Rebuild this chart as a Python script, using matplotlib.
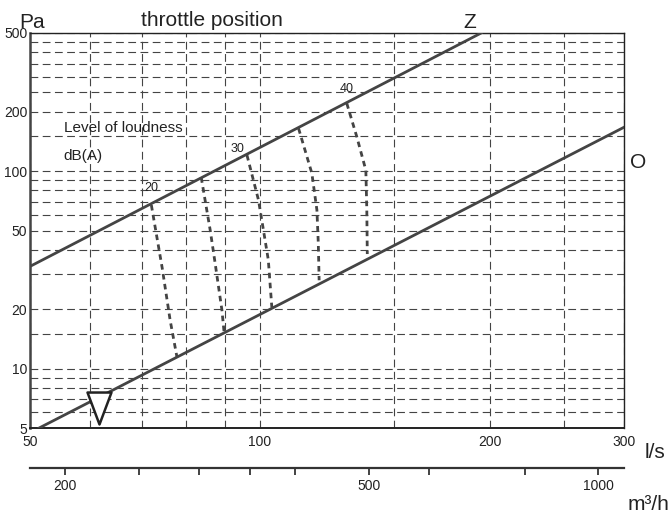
import numpy as np
import matplotlib.pyplot as plt
from matplotlib.ticker import NullLocator, NullFormatter
from matplotlib.path import Path

plt.rcParams['font.family'] = ['Liberation Sans', 'DejaVu Sans']

# axis ticks and grid (l/s, Pa, m3/h)
q_ticks = [50, 100, 200, 300]
q_grid = [60, 70, 80, 90, 150, 250]
p_ticks = [5, 10, 20, 50, 100, 200, 500]
p_grid = [6, 7, 8, 9, 15, 30, 40, 60, 70, 80, 90, 150, 250, 300, 350, 400, 450]
m3h_ticks = [200, 250, 300, 350, 400, 500, 600, 800, 1000]
m3h_labels = ['200', '', '', '', '', '500', '', '', '1000']

# throttle position lines
z_q = [50, 195]
z_p = [32.9, 500]
o_q = [51.4, 300]
o_p = [5, 166.6]

# loudness curves dB(A)
c20_q = [72.1, 74.5, 76.3, 77.9]
c20_p = [67.3, 32.3, 17.6, 11.4]
c25_q = [83.8, 86.1, 87.4, 89.2, 89.8]
c25_p = [93.0, 50.3, 34.1, 19.8, 15.2]
c30_q = [96.2, 99.6, 101.1, 102.6, 103.7]
c30_p = [120.5, 71.4, 50.3, 35.5, 20.4]
c35_q = [112.4, 117.0, 118.8, 119.3, 119.6]
c35_p = [164.6, 97.5, 63.5, 43.1, 28.0]
c40_q = [130.0, 134.0, 137.7, 138.1, 138.3]
c40_p = [220.3, 149.0, 101.0, 63.5, 38.0]
curve_labels = ['20', '30', '40']
label_q = [72.2, 93.6, 130.0]
label_p = [82.0, 129.0, 259.0]

# minimum point marker
min_q = [61.6]
min_p = [6.3]

W, H = 671, 515
fig = plt.figure(figsize=(W / 100, H / 100), dpi=100)
ax = fig.add_axes([30 / W, 1 - 428 / H, 594 / W, 395 / H])
ax.set_xscale('log')
ax.set_yscale('log')
ax.set_xlim(50, 300)
ax.set_ylim(5, 500)

ax.set_xticks(q_ticks, [str(v) for v in q_ticks])
ax.set_xticks(q_grid, minor=True)
ax.set_yticks(p_ticks, [str(v) for v in p_ticks])
ax.set_yticks(p_grid, minor=True)
ax.xaxis.set_minor_formatter(NullFormatter())
ax.yaxis.set_minor_formatter(NullFormatter())
ax.tick_params(which='both', length=0, labelsize=10, colors='#222222')
ax.tick_params(axis='x', pad=5)
ax.tick_params(axis='y', pad=2)
ax.grid(which='both', color='#444444', linestyle=(0, (7, 4)), linewidth=0.8)

for s in ['top', 'right', 'bottom']:
    ax.spines[s].set_color('#222222')
    ax.spines[s].set_linewidth(1.0)
ax.spines['bottom'].set_linewidth(1.4)
ax.spines['left'].set_color('#444444')
ax.spines['left'].set_linewidth(1.8)

line_kw = dict(color='#444444', linewidth=2.0, zorder=3, clip_on=True)
ax.plot(z_q, z_p, **line_kw)
ax.plot(o_q, o_p, **line_kw)

dash_kw = dict(color='#444444', linewidth=2.0, linestyle=(0, (2, 1.6)), zorder=3)
for cq, cp in [(c20_q, c20_p), (c25_q, c25_p), (c30_q, c30_p),
               (c35_q, c35_p), (c40_q, c40_p)]:
    ax.plot(cq, cp, **dash_kw)

for t, lq, lp in zip(curve_labels, label_q, label_p):
    ax.text(lq, lp, t, fontsize=9, ha='center', va='center', color='#222222')

tri = Path([(-0.75, 1), (0.75, 1), (0, -1), (-0.75, 1)],
           [Path.MOVETO, Path.LINETO, Path.LINETO, Path.CLOSEPOLY])
ax.plot(min_q, min_p, marker=tri, markersize=23, markerfacecolor='white',
        markeredgecolor='#222222', markeredgewidth=1.8, linestyle='none',
        zorder=4, clip_on=False)

ax.text(0.057, 0.76, 'Level of loudness', transform=ax.transAxes,
        fontsize=11, va='center', color='#222222')
ax.text(0.057, 0.688, 'dB(A)', transform=ax.transAxes,
        fontsize=11, va='center', color='#222222')

sec = ax.secondary_xaxis(-0.1, functions=(lambda q: q * 3.6, lambda m: m / 3.6))
sec.set_xticks(m3h_ticks, m3h_labels)
sec.xaxis.set_minor_locator(NullLocator())
sec.tick_params(direction='out', length=5, width=1.2, pad=3, labelsize=10,
                colors='#222222')
sec.spines['bottom'].set_linewidth(1.6)
sec.spines['bottom'].set_color('#333333')

def ftext(px, py, s, **kw):
    fig.text(px / W, 1 - py / H, s, color='#222222', **kw)

ftext(32, 22, 'Pa', fontsize=15, ha='center', va='center')
ftext(212, 21, 'throttle position', fontsize=15, ha='center', va='center')
ftext(470, 23, 'Z', fontsize=15, ha='center', va='center')
ftext(638, 162, 'O', fontsize=15, ha='center', va='center')
ftext(655, 452, 'l/s', fontsize=15, ha='center', va='center')
ftext(669, 505, 'm³/h', fontsize=15, ha='right', va='center')

fig.savefig('out.png', dpi=100)
